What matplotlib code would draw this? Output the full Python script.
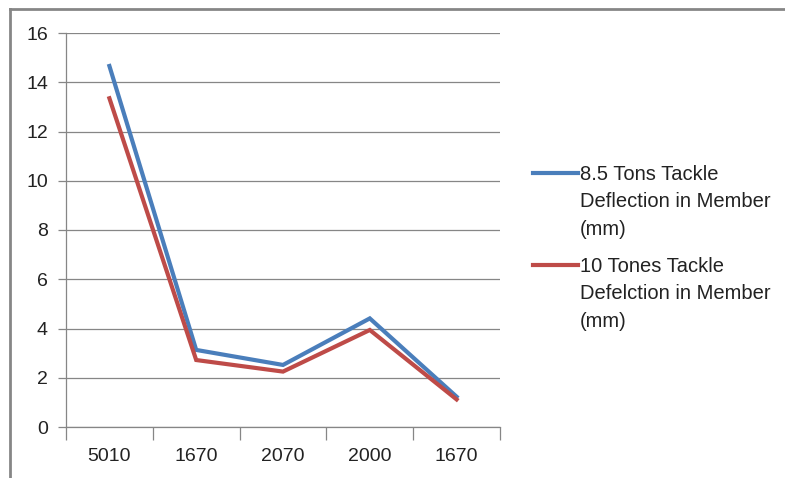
import matplotlib.pyplot as plt
import numpy as np
from matplotlib.lines import Line2D

# member spans (mm) and deflections for the two tackle loads
categories = ["5010", "1670", "2070", "2000", "1670"]
defl_8_5 = [14.66, 3.13, 2.52, 4.41, 1.23]
defl_10 = [13.35, 2.72, 2.25, 3.94, 1.12]
series_names = ["8.5 Tons Tackle\nDeflection in Member\n(mm)",
                "10 Tones Tackle\nDefelction in Member\n(mm)"]

blue = "#4a7ebb"
red = "#be4b48"
grid_col = "#868686"
txt_col = "#222222"
fs = 14
fs_leg = 14.5

plt.rcParams["font.family"] = ["Liberation Sans", "DejaVu Sans"]

fig = plt.figure(figsize=(7.85, 4.78), dpi=100)
W, H = 785, 478
ax = fig.add_axes([66 / W, 1 - 427 / H, (500 - 66) / W, (427 - 33) / H])

x = np.arange(len(categories))
ax.plot(x, defl_8_5, color=blue, lw=3, solid_joinstyle="miter", zorder=3)
ax.plot(x, defl_10, color=red, lw=3, solid_joinstyle="miter", zorder=3)

ax.set_xlim(-0.5, len(categories) - 0.5)
ax.set_ylim(0, 16)
ax.set_yticks(np.arange(0, 17, 2))
ax.set_xticks(x)
ax.set_xticklabels(categories)
ax.set_xticks(np.arange(-0.5, len(categories), 1), minor=True)
ax.tick_params(axis="x", which="major", length=0, pad=15, labelsize=fs, colors=txt_col)
ax.tick_params(axis="x", which="minor", length=9, width=0.9, color=grid_col, direction="out")
ax.tick_params(axis="y", length=6, width=0.9, color=grid_col, pad=7, labelsize=fs,
               labelcolor=txt_col)

ax.grid(axis="y", color=grid_col, lw=0.9)
ax.set_axisbelow(True)
for s in ["top", "right"]:
    ax.spines[s].set_visible(False)
for s in ["left", "bottom"]:
    ax.spines[s].set_color(grid_col)
    ax.spines[s].set_linewidth(0.9)

# legend: handle sits beside the first line of each entry
for name, col, y0 in [(series_names[0], blue, 173), (series_names[1], red, 265)]:
    fig.add_artist(Line2D([533 / W, 578 / W], [1 - y0 / H, 1 - y0 / H], color=col, lw=3))
    fig.text(580 / W, 1 - (y0 - 8) / H, name, fontsize=fs_leg, color=txt_col,
             va="top", ha="left", linespacing=1.56)

# outer chart border (top and left edges)
fig.add_artist(Line2D([10 / W, 1], [1 - 9 / H, 1 - 9 / H], color=grid_col, lw=2))
fig.add_artist(Line2D([10 / W, 10 / W], [0, 1 - 9 / H], color=grid_col, lw=2))

fig.savefig("out.png", dpi=100)
